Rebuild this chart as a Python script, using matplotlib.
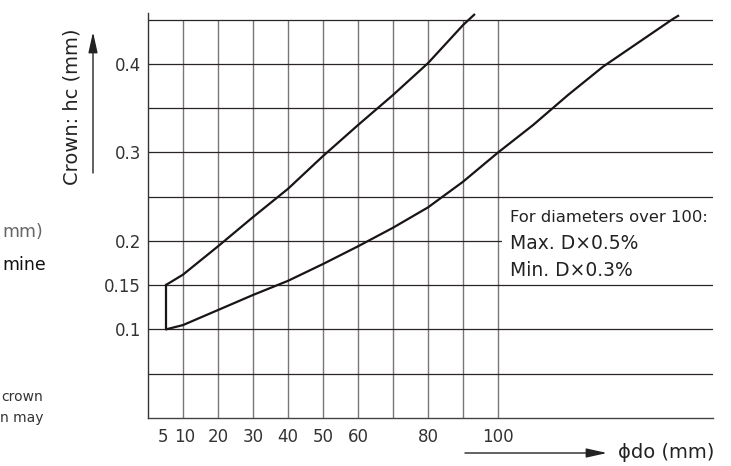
import matplotlib
matplotlib.use("Agg")
import matplotlib.pyplot as plt
from matplotlib.patches import Rectangle
from matplotlib.transforms import ScaledTranslation

# ---- data ----
upper_x = [5, 10, 20, 30, 40, 50, 60, 70, 80, 90, 93.4]
upper_y = [0.15, 0.162, 0.194, 0.227, 0.259, 0.296, 0.331, 0.365, 0.401, 0.444, 0.4565]

lower_x = [5, 10, 20, 30, 40, 50, 60, 70, 80, 90, 100, 110, 120, 130, 140, 150, 151.7]
lower_y = [0.1, 0.105, 0.122, 0.139, 0.155, 0.174, 0.194, 0.215, 0.238, 0.267, 0.3,
           0.331, 0.365, 0.397, 0.424, 0.451, 0.455]

start_x = [5, 5]
start_y = [0.1, 0.15]

x_ticks = [5, 10, 20, 30, 40, 50, 60, 80, 100]
x_tick_labels = ["5", "10", "20", "30", "40", "50", "60", "80", "100"]
y_ticks = [0.1, 0.15, 0.2, 0.3, 0.4]
y_tick_labels = ["0.1", "0.15", "0.2", "0.3", "0.4"]

v_grid = [10, 20, 30, 40, 50, 60, 70, 80, 90, 100]
h_grid = [0.05, 0.1, 0.15, 0.2, 0.25, 0.3, 0.35, 0.4, 0.45]

note_lines = ["For diameters over 100:", "Max. D\u00d70.5%", "Min. D\u00d70.3%"]

# ---- figure ----
W, H = 731, 466
fig = plt.figure(figsize=(W / 100, H / 100), dpi=100)
plt.rcParams['font.family'] = ['DejaVu Sans']

ax = fig.add_axes([148 / W, (H - 418) / H, (713 - 148) / W, (418 - 13) / H])
ax.set_xlim(0, 161.4)
ax.set_ylim(0, 0.4576)
ax.patch.set_alpha(0)

for s in ["top", "right"]:
    ax.spines[s].set_visible(False)
ax.spines["left"].set_color("#333333")
ax.spines["bottom"].set_color("#444444")
ax.spines["left"].set_linewidth(1.0)
ax.spines["bottom"].set_linewidth(1.0)

ax.vlines(v_grid, 0, 0.45, colors="#7a7676", linewidth=1.0, zorder=1)
ax.hlines(h_grid, 0, 161.4, colors="#2a2424", linewidth=0.9, zorder=1)

ax.set_xticks(x_ticks)
ax.set_xticklabels(x_tick_labels)
ax.set_yticks(y_ticks)
ax.set_yticklabels(y_tick_labels)
ax.tick_params(axis="both", length=0, labelsize=12, labelcolor="#333333")
ax.tick_params(axis="x", pad=7)
ax.tick_params(axis="y", pad=5)

# separate the crowded "5" and "10" labels slightly
xlabels = ax.get_xticklabels()
xlabels[0].set_transform(xlabels[0].get_transform()
                         + ScaledTranslation(-3 / 100, 0, fig.dpi_scale_trans))
xlabels[1].set_transform(xlabels[1].get_transform()
                         + ScaledTranslation(2 / 100, 0, fig.dpi_scale_trans))

# white box behind note
ax.add_patch(Rectangle((101, 0.158), 62, 0.087, facecolor="white", edgecolor="none",
                       zorder=2, clip_on=False))

ax.plot(upper_x, upper_y, color="#1a1414", linewidth=1.6, zorder=3, solid_capstyle="butt")
ax.plot(lower_x, lower_y, color="#1a1414", linewidth=1.6, zorder=3, solid_capstyle="butt")
ax.plot(start_x, start_y, color="#1a1414", linewidth=1.6, zorder=3)

ax.text(103.4, 0.227, note_lines[0], fontsize=11.8, color="#222222", va="center",
        ha="left", zorder=4)
ax.text(103.4, 0.1977, note_lines[1], fontsize=13.5, color="#222222", va="center",
        ha="left", zorder=4)
ax.text(103.4, 0.167, note_lines[2], fontsize=13.5, color="#222222", va="center",
        ha="left", zorder=4)

# axis labels and arrows (figure pixels, origin bottom-left)
fig.text(72 / W, (H - 107) / H, "Crown: hc (mm)", rotation=90, fontsize=14,
         color="#222222", ha="center", va="center")
ax.annotate("", xy=(93, H - 32), xytext=(93, H - 173), xycoords="figure pixels",
            textcoords="figure pixels",
            arrowprops=dict(arrowstyle="-|>,head_length=0.9,head_width=0.2",
                            mutation_scale=14, lw=1.0, color="#222222",
                            shrinkA=0, shrinkB=0))

fig.text(618 / W, 13 / H, "\u03d5do (mm)", fontsize=14, color="#222222",
         ha="left", va="center")
ax.annotate("", xy=(607, 13), xytext=(465, 13), xycoords="figure pixels",
            textcoords="figure pixels",
            arrowprops=dict(arrowstyle="-|>,head_length=0.9,head_width=0.2",
                            mutation_scale=14, lw=1.0, color="#222222",
                            shrinkA=0, shrinkB=0))

# text fragments at the left edge (as visible in the reference)
fig.text(2 / W, (H - 232) / H, "mm)", fontsize=12.5, color="#666666", ha="left", va="center")
fig.text(2 / W, (H - 265) / H, "mine", fontsize=12.5, color="#111111", ha="left", va="center")
fig.text(43 / W, (H - 397) / H, "crown", fontsize=10, color="#333333", ha="right", va="center")
fig.text(43 / W, (H - 418) / H, "n may", fontsize=10, color="#333333", ha="right", va="center")

fig.savefig("out.png", dpi=100)
